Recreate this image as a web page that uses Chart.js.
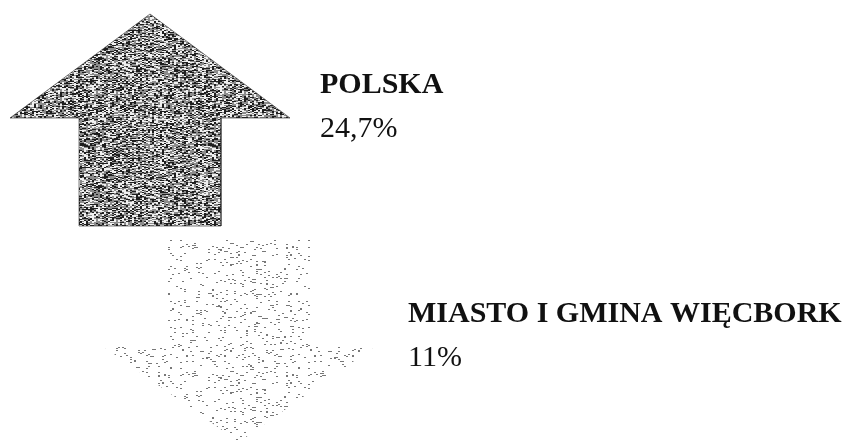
<!DOCTYPE html>
<html>
<head>
<meta charset="utf-8">
<script src="https://cdn.jsdelivr.net/npm/chart.js@4"></script>
<style>
  html, body { margin: 0; padding: 0; background: #fff; }
  canvas { display: block; }
</style>
</head>
<body>
<canvas id="graph" width="853" height="443"></canvas>
<script>
// Données
const categories = ['POLSKA', 'MIASTO I GMINA WIĘCBORK'];
const values = [24.7, 11];
const valueLabels = ['24,7%', '11%'];
const directions = ['up', 'down'];

// Mise en page (coordonnées du repère 853 x 443)
const arrowLayout = [
  { cx: 150, tip: 14, end: 226, headHalf: 140, shaftHalf: 71, headLen: 104 },
  { cx: 239, tip: 442, end: 240, headHalf: 135, shaftHalf: 71, headLen: 95 }
];
const labelLayout = [
  { x: 320, nameY: 93, valueY: 137 },
  { x: 408, nameY: 322, valueY: 366 }
];

// hash déterministe pour la texture
function hash(x, y, s) {
  let h = Math.imul(x, 0x27d4eb2d) ^ Math.imul(y, 0x165667b1) ^ Math.imul(s, 0x9e3779b1);
  h = Math.imul(h ^ (h >>> 15), 0x85ebca6b);
  h = Math.imul(h ^ (h >>> 13), 0xc2b2ae35);
  h = h ^ (h >>> 16);
  return (h >>> 0) / 4294967296;
}

function makePattern(dir) {
  const n = 128;
  const c = document.createElement('canvas');
  c.width = n; c.height = n;
  const g = c.getContext('2d');
  const img = g.createImageData(n, n);
  for (let y = 0; y < n; y++) {
    for (let x = 0; x < n; x++) {
      let v = 255;
      if (dir === 'up') {
        const r = hash(x >> 1, y, 3);
        if (r < 0.3) v = 30;
        else if (r < 0.7) v = 140;
        else v = 240;
      } else {
        const r = hash(x >> 1, y, 11);
        if (r < 0.06) v = 120;
      }
      const i = (y * n + x) * 4;
      img.data[i] = img.data[i + 1] = img.data[i + 2] = v;
      img.data[i + 3] = 255;
    }
  }
  g.putImageData(img, 0, 0);
  return g.createPattern(c, 'repeat');
}

function arrowPoints(dir, a) {
  const s = dir === 'up' ? 1 : -1;
  const headBase = a.tip + s * a.headLen;
  return [
    { x: a.cx, y: a.tip },
    { x: a.cx + a.headHalf, y: headBase },
    { x: a.cx + a.shaftHalf, y: headBase },
    { x: a.cx + a.shaftHalf, y: a.end },
    { x: a.cx - a.shaftHalf, y: a.end },
    { x: a.cx - a.shaftHalf, y: headBase },
    { x: a.cx - a.headHalf, y: headBase },
    { x: a.cx, y: a.tip }
  ];
}

const datasets = categories.map((name, i) => ({
  type: 'line',
  label: name,
  data: arrowPoints(directions[i], arrowLayout[i]),
  backgroundColor: makePattern(directions[i]),
  borderColor: directions[i] === 'up' ? 'rgba(40,40,40,0.6)' : 'rgba(0,0,0,0)',
  borderWidth: directions[i] === 'up' ? 1 : 0,
  fill: 'shape',
  tension: 0,
  pointRadius: 0
}));

const labelsPlugin = {
  id: 'arrowLabels',
  afterDatasetsDraw(chart) {
    const ctx = chart.ctx;
    const xs = chart.scales.x, ys = chart.scales.y;
    ctx.save();
    ctx.fillStyle = '#111';
    ctx.textAlign = 'left';
    ctx.textBaseline = 'alphabetic';
    categories.forEach((name, i) => {
      const l = labelLayout[i];
      ctx.font = 'bold 30px "Liberation Serif", "DejaVu Serif", serif';
      ctx.fillText(name, xs.getPixelForValue(l.x), ys.getPixelForValue(l.nameY));
      ctx.font = '30px "Liberation Serif", "DejaVu Serif", serif';
      ctx.fillText(valueLabels[i], xs.getPixelForValue(l.x), ys.getPixelForValue(l.valueY));
    });
    ctx.restore();
  }
};

const ctx = document.getElementById('graph').getContext('2d');
const myChart = new Chart(ctx, {
  type: 'scatter',
  data: { datasets },
  options: {
    responsive: false,
    animation: false,
    layout: { padding: 0 },
    plugins: { legend: { display: false }, tooltip: { enabled: false } },
    scales: {
      x: { type: 'linear', min: 0, max: 853, display: false },
      y: { type: 'linear', min: 0, max: 443, reverse: true, display: false }
    }
  },
  plugins: [labelsPlugin]
});
</script>
</body>
</html>
